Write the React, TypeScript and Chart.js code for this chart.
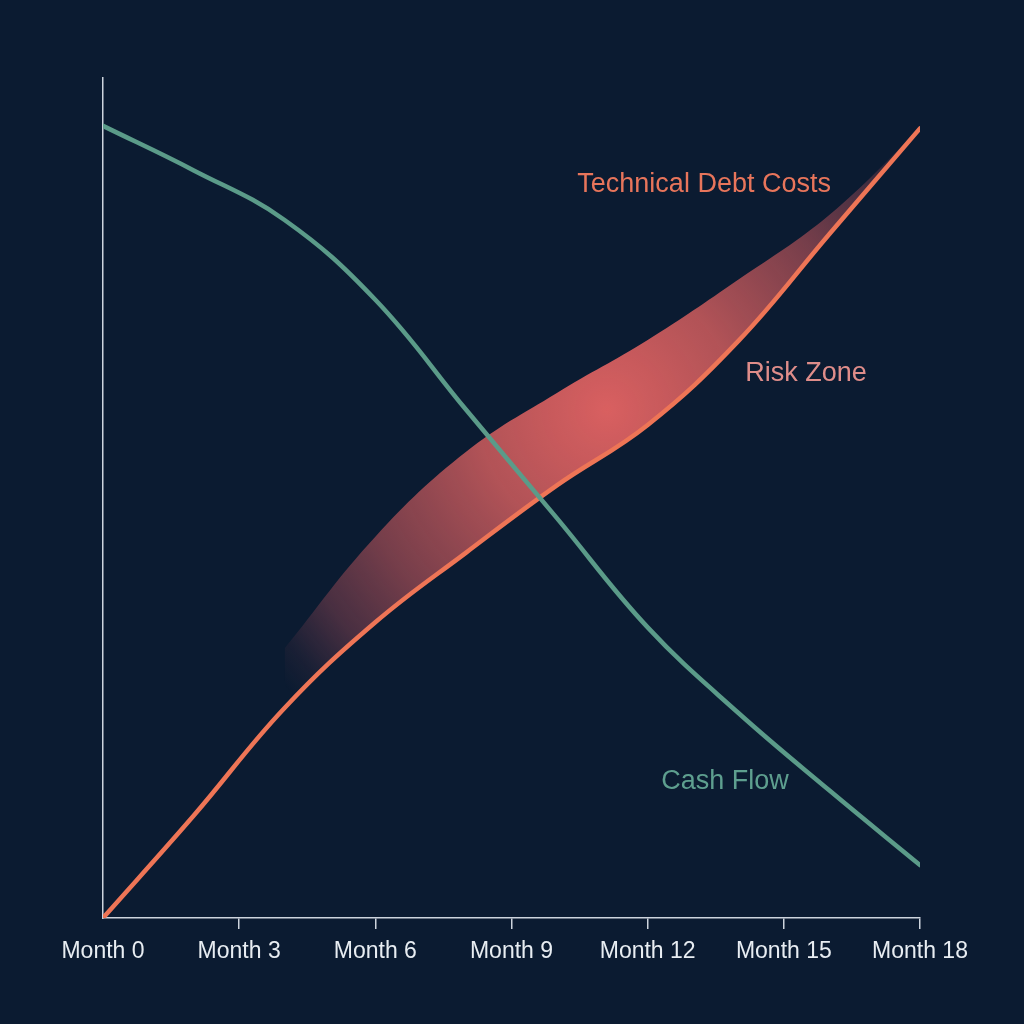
import React, { useEffect, useRef } from "react";
import { Chart, registerables } from "chart.js";

Chart.register(...registerables);

const months = [0, 2, 4, 6, 8, 10, 12, 14, 16, 18];
const tickMonths = [0, 3, 6, 9, 12, 15, 18];
const tickLabels = ["Month 0", "Month 3", "Month 6", "Month 9", "Month 12", "Month 15", "Month 18"];

const cashFlow = [94.3, 89.0, 83.1, 73.6, 60.5, 47.6, 34.6, 24.4, 15.2, 6.3];
const techDebt = [0, 12.2, 25.0, 35.2, 43.5, 51.5, 58.7, 68.7, 81.4, 94.0];

const riskMonths = [4, 6, 8, 10, 12, 14, 16, 18];
const riskUpper = [32.1, 45.4, 55.5, 62.5, 68.8, 76.0, 83.7, 94.0];

// annotation labels
const labelTexts = ["Technical Debt Costs", "Risk Zone", "Cash Flow"];
const labelMonths = [10.45, 14.15, 12.3];
const labelValues = [87.3, 64.8, 16.2];
const labelColors = ["#e8755b", "#df8d8a", "#5e9f8f"];

const BG = "#0b1b31";
const AXIS = "#cdd4dd";
const GREEN = "#5b9b89";
const ORANGE = "#ee7556";

const toXY = (xs: number[], ys: number[]) => xs.map((x, i) => ({ x, y: ys[i] }));

const labelPlugin = {
  id: "labels",
  afterDatasetsDraw(chart: any) {
    const { ctx, scales } = chart;
    ctx.save();
    ctx.font = "27px 'Liberation Sans', Arial, sans-serif";
    ctx.textAlign = "left";
    ctx.textBaseline = "middle";
    labelTexts.forEach((t, i) => {
      ctx.fillStyle = labelColors[i];
      ctx.fillText(t, scales.x.getPixelForValue(labelMonths[i]), scales.y.getPixelForValue(labelValues[i]));
    });
    ctx.restore();
  },
};

export default function App() {
  const ref = useRef<HTMLCanvasElement>(null);

  useEffect(() => {
    document.body.style.margin = "0";
    const canvas = ref.current!;
    const chart = new Chart(canvas, {
      type: "line",
      data: {
        datasets: [
          {
            label: "Cash Flow",
            data: toXY(months, cashFlow),
            borderColor: GREEN,
            borderWidth: 4.5,
            pointRadius: 0,
            tension: 0.4,
            borderCapStyle: "round",
            fill: false,
            order: 0,
          },
          {
            label: "Technical Debt Costs",
            data: toXY(months, techDebt),
            borderColor: ORANGE,
            borderWidth: 4.5,
            pointRadius: 0,
            tension: 0.4,
            borderCapStyle: "round",
            fill: false,
            order: 1,
          },
          {
            label: "Risk Zone",
            data: toXY(riskMonths, riskUpper),
            borderWidth: 0,
            borderColor: "transparent",
            pointRadius: 0,
            tension: 0.4,
            fill: 1,
            order: 2,
            backgroundColor: (context: any) => {
              const c = context.chart;
              const { ctx, chartArea, scales } = c;
              if (!chartArea) return "rgba(216,96,96,0.5)";
              const cx = scales.x.getPixelForValue(11.1);
              const cy = scales.y.getPixelForValue(60.5);
              const r = (chartArea.right - chartArea.left) * 0.52;
              const g = ctx.createRadialGradient(cx, cy, 0, cx, cy, r);
              g.addColorStop(0, "rgba(224,98,98,0.97)");
              g.addColorStop(0.3, "rgba(216,96,96,0.82)");
              g.addColorStop(0.6, "rgba(208,92,96,0.56)");
              g.addColorStop(0.8, "rgba(196,88,98,0.33)");
              g.addColorStop(0.93, "rgba(190,85,98,0.08)");
              g.addColorStop(1, "rgba(190,85,98,0)");
              return g;
            },
          },
        ],
      },
      options: {
        responsive: false,
        animation: false,
        events: [],
        layout: { padding: { left: 103, right: 104, top: 78, bottom: 0 } },
        plugins: {
          legend: { display: false },
          tooltip: { enabled: false },
          title: { display: false },
        },
        scales: {
          x: {
            type: "linear",
            min: 0,
            max: 18,
            afterFit: (s: any) => {
              s.height = 106;
            },
            afterBuildTicks: (s: any) => {
              s.ticks = tickMonths.map((v) => ({ value: v }));
            },
            ticks: {
              color: "#e8edf2",
              font: { size: 23, family: "'Liberation Sans', Arial, sans-serif" },
              padding: 9,
              maxRotation: 0,
              autoSkip: false,
              callback: (v: any) => tickLabels[tickMonths.indexOf(Number(v))],
            },
            grid: {
              display: true,
              drawOnChartArea: false,
              drawTicks: true,
              tickLength: 11,
              lineWidth: 1.5,
              color: (c: any) => (c.tick && c.tick.value === 0 ? "transparent" : AXIS),
            },
            border: { display: true, color: AXIS, width: 1.5 },
          },
          y: {
            type: "linear",
            min: 0,
            max: 100,
            afterFit: (s: any) => {
              s.width = 0;
            },
            ticks: { display: false },
            grid: { display: false },
            border: { display: true, color: AXIS, width: 1.5 },
          },
        },
      },
      plugins: [labelPlugin],
    });
    return () => chart.destroy();
  }, []);

  return (
    <div style={{ position: "absolute", left: 0, top: 0, width: 1024, height: 1024, background: BG }}>
      <canvas ref={ref} width={1024} height={1024} style={{ display: "block", width: 1024, height: 1024 }} />
    </div>
  );
}
